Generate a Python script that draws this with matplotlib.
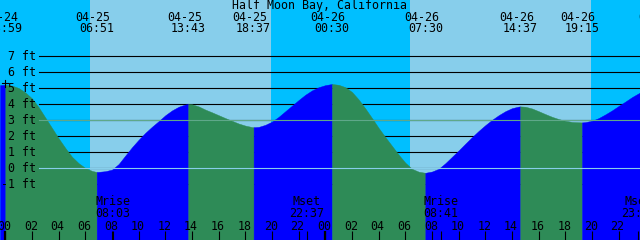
import numpy as np
import matplotlib.pyplot as plt

# tide heights (ft), hours counted from 04-25 00:00
hours = [-0.4, 0, 0.5, 1, 1.5, 2, 2.5, 3, 3.5, 4, 4.5, 5, 5.5, 6, 6.5, 6.85,
         7, 7.5, 8, 8.5, 9, 9.5, 10, 10.5, 11, 11.5, 12, 12.5, 13, 13.5, 13.72,
         14, 14.5, 15, 15.5, 16, 16.5, 17, 17.5, 18, 18.5, 18.62,
         19, 19.5, 20, 20.5, 21, 21.5, 22, 22.5, 23, 23.5, 24, 24.5,
         25, 25.5, 26, 26.5, 27, 27.5, 28, 28.5, 29, 29.5, 30, 30.5, 31, 31.5,
         32, 32.5, 33, 33.5, 34, 34.5, 35, 35.5, 36, 36.5, 37, 37.5, 38, 38.5, 38.62,
         39, 39.5, 40, 40.5, 41, 41.5, 42, 42.5, 43, 43.25,
         43.5, 44, 44.5, 45, 45.5, 46, 46.5, 47, 47.5, 47.6]
heights = [5.18, 5.2, 5.15, 5.0, 4.72, 4.35, 3.8, 3.15, 2.5, 1.85, 1.25, 0.7, 0.3, 0.0, -0.18, -0.25,
           -0.24, -0.2, -0.1, 0.25, 0.78, 1.3, 1.77, 2.2, 2.58, 2.93, 3.3, 3.6, 3.83, 3.97, 4.0,
           3.98, 3.85, 3.65, 3.48, 3.3, 3.12, 2.95, 2.78, 2.65, 2.56, 2.55,
           2.57, 2.7, 2.9, 3.2, 3.55, 3.9, 4.25, 4.58, 4.85, 5.05, 5.18, 5.25,
           5.2, 5.05, 4.75, 4.28, 3.72, 3.12, 2.5, 1.93, 1.38, 0.83, 0.33, -0.05, -0.23, -0.3,
           -0.22, -0.05, 0.3, 0.7, 1.1, 1.52, 1.93, 2.32, 2.68, 3.01, 3.3, 3.55, 3.74, 3.84, 3.85,
           3.83, 3.72, 3.55, 3.37, 3.2, 3.06, 2.95, 2.88, 2.86, 2.85,
           2.87, 2.95, 3.12, 3.35, 3.6, 3.88, 4.15, 4.43, 4.67, 4.72]

sunrise = [6.35, 30.35]
sunset = [19.93, 43.91]

event_hours = [-0.017, 6.85, 13.72, 18.62, 24.5, 31.5, 38.62, 43.25, 49.07]
event_dates = ['04-24', '04-25', '04-25', '04-25', '04-26', '04-26', '04-26', '04-26', '04-27']
event_times = ['23:59', '06:51', '13:43', '18:37', '00:30', '07:30', '14:37', '19:15', '01:04']

moon_hours = [8.05, 22.62, 32.68, 47.47]
moon_names = ['Mrise', 'Mset', 'Mrise', 'Mset']
moon_times = ['08:03', '22:37', '08:41', '23:28']

ft_levels = [7, 6, 5, 4, 3, 2, 1, 0, -1]
hour_ticks = list(range(0, 48, 2))

X0, X1 = -0.4, 47.6
Y0, Y1 = -4.5, 10.5

def px(x):
    return X0 + x * (X1 - X0) / 640.0

def py(y):
    return (168 - y) / 16.0

plt.rcParams['font.family'] = 'DejaVu Sans Mono'
FS = 8.4

fig = plt.figure(figsize=(6.4, 2.4), dpi=100)
ax = fig.add_axes([0, 0, 1, 1])
ax.set_xlim(X0, X1)
ax.set_ylim(Y0, Y1)
ax.axis('off')

# sky
ax.axvspan(X0, X1, color='#00BFFF', lw=0, zorder=0)
for a, b in zip(sunrise, sunset):
    ax.axvspan(a, b, color='#87CEEB', lw=0, zorder=0.5)

# grid lines behind the water
for lv in ft_levels:
    ax.plot([px(39), X1], [lv, lv], color='black', lw=0.8, zorder=1)

# water, green when falling and blue when rising
h = np.array(hours)
v = np.array(heights)
d = np.sign(np.diff(v))
turns = [0] + [i for i in range(1, len(d)) if d[i] != d[i - 1]] + [len(v) - 1]
for a, b in zip(turns[:-1], turns[1:]):
    col = '#2E8B57' if v[b] < v[a] else '#0000FF'
    ax.fill_between(h[a:b + 1], v[a:b + 1], Y0, facecolor=col, edgecolor=col,
                    lw=0.3, zorder=2)

# mean and datum lines on top
ax.plot([px(39), X1], [3, 3], color='#5fa88a', lw=0.8, zorder=3)
ax.plot([px(39), X1], [0, 0], color='#87CEEB', lw=0.8, zorder=3)

for lv in ft_levels:
    ax.text(px(36), lv, '%d ft' % lv, ha='right', va='center', fontsize=FS, zorder=4)

ax.plot([px(2), px(8)], [py(83), py(83)], color='black', lw=0.8, zorder=4)
ax.plot([px(4.5), px(4.5)], [py(80), py(87)], color='black', lw=0.8, zorder=4)

ax.text(px(320), py(6), 'Half Moon Bay, California', ha='center', va='center', fontsize=FS)

for t, dt, tm in zip(event_hours, event_dates, event_times):
    ax.text(t - 0.3, py(17.5), dt, ha='center', va='center', fontsize=FS)
    ax.text(t, py(29), tm, ha='center', va='center', fontsize=FS)

for t, nm, tm in zip(moon_hours, moon_names, moon_times):
    ax.text(t, py(201.5), nm, ha='center', va='center', fontsize=FS, zorder=4)
    ax.text(t, py(213.5), tm, ha='center', va='center', fontsize=FS, zorder=4)

for t in hour_ticks:
    ax.text(t - 0.08, py(226), '%02d' % (t % 24), ha='center', va='center', fontsize=FS, zorder=4)
ax.vlines(hour_ticks + moon_hours, py(240), py(231), color='black', lw=0.8, zorder=4)
ax.vlines([0, 24], py(240), py(231), color='black', lw=1.6, zorder=4)

fig.savefig('out.png', dpi=100)
